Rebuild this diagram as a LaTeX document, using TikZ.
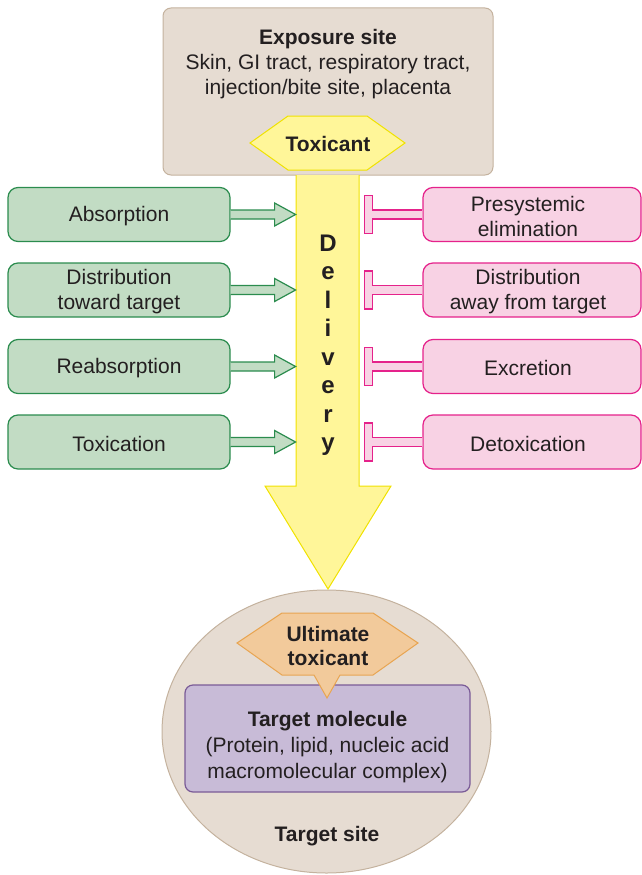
\documentclass[tikz,border=0pt]{standalone}
\usepackage{fontspec}
\setmainfont{Liberation Sans}
\usetikzlibrary{calc,shapes.geometric}
\definecolor{txt}{HTML}{231F20}
\definecolor{beige}{HTML}{E6DCD2}
\definecolor{beigeline}{HTML}{C4B29E}
\definecolor{yel}{HTML}{FFF699}
\definecolor{yelline}{HTML}{F0E200}
\definecolor{gfill}{HTML}{C2DCC4}
\definecolor{gline}{HTML}{2B8C4E}
\definecolor{pfill}{HTML}{F8D2E4}
\definecolor{pline}{HTML}{E5228B}
\definecolor{ofill}{HTML}{F2CA9B}
\definecolor{oline}{HTML}{E8A552}
\definecolor{ufill}{HTML}{C8BBD7}
\definecolor{uline}{HTML}{7A5B97}
\tikzset{
  lbl/.style={text=txt, font=\fontsize{21}{25}\selectfont, align=center, inner sep=0pt},
  bld/.style={text=txt, font=\fontsize{21}{25}\selectfont\bfseries, align=center, inner sep=0pt},
  greenbox/.style={draw=gline, fill=gfill, line width=1.2pt, rounded corners=10pt, minimum width=222pt, minimum height=54pt},
  pinkbox/.style={draw=pline, fill=pfill, line width=1.2pt, rounded corners=10pt, minimum width=218pt, minimum height=54pt},
  garrow/.style={draw=gline, fill=gfill, line width=1.2pt, line join=miter},
  pbar/.style={draw=pline, fill=pfill, line width=1.2pt, line join=miter},
  yshape/.style={draw=yelline, fill=yel, line width=1pt, line join=miter},
}
\begin{document}
\begin{tikzpicture}[x=1pt,y=-1pt]
\useasboundingbox (0,0) rectangle (642,875);
% exposure site
\node[draw=beigeline, fill=beige, line width=1pt, rounded corners=8pt, minimum width=330pt, minimum height=167pt] (expo) at (328,91.5) {};
\node[lbl] (expotext) at (328,64) {\textbf{Exposure site}\\Skin, GI tract, respiratory tract,\\injection/bite site, placenta};
% target site
\node[draw=beigeline, fill=beige, line width=1pt, ellipse, inner sep=0pt, minimum width=329pt, minimum height=283pt] (site) at (326.5,731.5) {};
\node[bld] (sitetext) at (327,836) {Target site};
% delivery arrow
\coordinate (dtop) at (328,175);
\draw[yshape] ($(dtop)+(-32,0)$) -- ($(dtop)+(-32,311)$) -- ($(dtop)+(-63,311)$) -- ($(dtop)+(0,414)$) -- ($(dtop)+(63,311)$) -- ($(dtop)+(31,311)$) -- ($(dtop)+(31,0)$);
\node[text=txt, font=\fontsize{24}{28.5}\selectfont\bfseries, align=center, inner sep=0pt] (deltext) at (328,345) {D\\e\\l\\i\\v\\e\\r\\y};
% toxicant hexagon
\draw[yshape] (250,143) -- (288,116) -- (367,116) -- (405,143) -- (367,170) -- (288,170) -- cycle;
\node[bld] (tox) at (328,144) {Toxicant};
% left boxes
\node[greenbox] (a1) at (119,214.5) {};
\node[greenbox] (a2) at (119,290) {};
\node[greenbox] (a3) at (119,366.5) {};
\node[greenbox] (a4) at (119,442) {};
\node[lbl] (a1t) at ($(a1.center)+(0,1.5)$) {Absorption};
\node[lbl] (a2t) at ($(a2.center)+(0,1.5)$) {Distribution\\toward target};
\node[lbl] (a3t) at ($(a3.center)+(0,1.5)$) {Reabsorption};
\node[lbl] (a4t) at ($(a4.center)+(0,1.5)$) {Toxication};
\foreach \n in {a1,a2,a3,a4}{
  \draw[garrow] ($(\n.east)+(0,-4.5)$) -- ++(44,0) -- ++(0,-7) -- ($(\n.east)+(65,0)$) -- ($(\n.east)+(44,11.5)$) -- ++(0,-7) -- ($(\n.east)+(0,4.5)$);
}
% right boxes
\node[pinkbox] (p1) at (532,214.5) {};
\node[pinkbox] (p2) at (532,290) {};
\node[pinkbox] (p3) at (532,366.5) {};
\node[pinkbox] (p4) at (532,442) {};
\node[lbl] (p1t) at ($(p1.center)+(-4,1.5)$) {Presystemic\\elimination};
\node[lbl] (p2t) at ($(p2.center)+(-4,1.5)$) {Distribution\\away from target};
\node[lbl] (p3t) at ($(p3.center)+(-4,1.5)$) {Excretion};
\node[lbl] (p4t) at ($(p4.center)+(-4,1.5)$) {Detoxication};
\foreach \n in {p1,p2,p3,p4}{
  \draw[pbar] ($(\n.west)+(0,-4.5)$) -- ++(-50,0) -- ++(0,-14.5) -- ++(-8,0) -- ++(0,38) -- ++(8,0) -- ++(0,-14.5) -- ($(\n.west)+(0,4.5)$);
}
% target molecule
\node[draw=uline, fill=ufill, line width=1.2pt, rounded corners=8pt, minimum width=285pt, minimum height=107pt] (tm) at (327.5,738.5) {};
\node[lbl, font=\fontsize{21}{26}\selectfont] (tmtext) at (327.5,747) {\textbf{Target molecule}\\(Protein, lipid, nucleic acid\\macromolecular complex)};
% ultimate toxicant callout
\draw[draw=oline, fill=ofill, line width=1pt, line join=miter] (237,643) -- (282,613) -- (373,613) -- (418,643) -- (373,675) -- (340,675) -- (327,698) -- (314,675) -- (282,675) -- cycle;
\node[bld, font=\fontsize{21}{24}\selectfont\bfseries] (ult) at (328,646) {Ultimate\\toxicant};
\end{tikzpicture}
\end{document}
